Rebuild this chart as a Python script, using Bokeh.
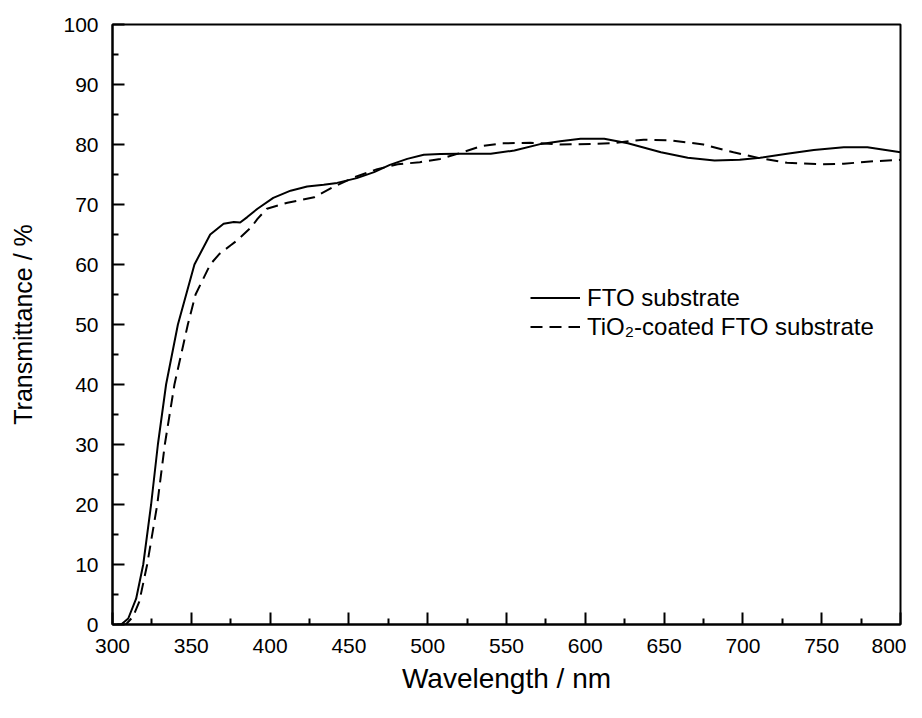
from bokeh.plotting import figure
from bokeh.models import Range1d, FixedTicker, Legend, LegendItem
from bokeh.embed import file_html
from bokeh.resources import INLINE

# ---- data ----
fto_nm = [303, 305.5, 310, 315, 319.5, 324.5, 328.8, 334, 341.5, 352, 362, 370.5, 377, 381,
          385.5, 392, 402, 413, 423.5, 434, 442.5, 455, 466, 476, 487, 497.5, 508, 519, 540,
          555, 572, 584, 597, 612, 627, 648, 665, 682, 698, 711, 728, 745, 764, 779, 800]
fto_T = [0, 0, 1.0, 4.3, 10, 20, 30, 40, 50, 60, 65, 66.8, 67.1, 67.0,
         67.9, 69.3, 71.1, 72.3, 73.0, 73.3, 73.6, 74.4, 75.4, 76.6, 77.6, 78.3, 78.4, 78.45, 78.45,
         79.0, 80.1, 80.55, 80.95, 80.95, 80.2, 78.7, 77.8, 77.35, 77.45, 77.8, 78.45, 79.1, 79.55, 79.55, 78.7]

tio2_nm = [306, 308.5, 313, 317, 322, 328.4, 333.2, 339.3, 347.8, 352.7, 362, 368, 375, 379, 388,
           392, 398, 411, 428, 440, 453, 468, 481, 495, 508, 521, 533.5, 548, 565, 584, 605, 616,
           637, 654, 675, 694, 711, 728, 749, 764, 783, 800]
tio2_T = [0, 0, 1.3, 3.8, 10, 20, 30, 40, 50, 55, 60, 61.8, 63.2, 64, 66.2,
          67.6, 69.3, 70.3, 71.2, 72.9, 74.5, 75.9, 76.7, 77.05, 77.6, 78.6, 79.7, 80.2, 80.3, 80.0, 80.1, 80.2,
          80.8, 80.7, 80.0, 78.7, 77.7, 76.95, 76.7, 76.8, 77.2, 77.45]

x_ticks = [300, 350, 400, 450, 500, 550, 600, 650, 700, 750, 800]
x_minor = [325, 375, 425, 475, 525, 575, 625, 675, 725, 775]
y_ticks = [0, 10, 20, 30, 40, 50, 60, 70, 80, 90, 100]
y_minor = [5, 15, 25, 35, 45, 55, 65, 75, 85, 95]

series_labels = ["FTO substrate", "TiO\u2082-coated FTO substrate"]
x_title = "Wavelength / nm"
y_title = "Transmittance / %"

FONT = "Liberation Sans"

p = figure(width=906, height=702, output_backend="svg", toolbar_location=None,
           x_range=Range1d(300, 800), y_range=Range1d(0, 100),
           min_border_left=112, min_border_top=24, min_border_right=6, min_border_bottom=78)

p.background_fill_color = "white"
p.border_fill_color = "white"
p.xgrid.visible = False
p.ygrid.visible = False
p.outline_line_color = "black"
p.outline_line_width = 2

p.xaxis.ticker = FixedTicker(ticks=x_ticks, minor_ticks=x_minor)
p.yaxis.ticker = FixedTicker(ticks=y_ticks, minor_ticks=y_minor)

for ax in (p.xaxis, p.yaxis):
    ax.axis_line_width = 2
    ax.axis_line_color = "black"
    ax.major_tick_in = 12
    ax.major_tick_out = 0
    ax.minor_tick_in = 6
    ax.minor_tick_out = 0
    ax.major_tick_line_width = 2
    ax.minor_tick_line_width = 2
    ax.major_tick_line_color = "black"
    ax.minor_tick_line_color = "black"
    ax.major_label_text_font = FONT
    ax.major_label_text_font_size = "21px"
    ax.major_label_text_color = "black"
    ax.axis_label_text_font = FONT
    ax.axis_label_text_font_style = "normal"
    ax.axis_label_text_color = "black"

p.xaxis.axis_label = x_title
p.yaxis.axis_label = y_title
p.xaxis.axis_label_text_font_size = "28px"
p.yaxis.axis_label_text_font_size = "25px"
p.xaxis.major_label_standoff = 14
p.yaxis.major_label_standoff = 14
p.xaxis.axis_label_standoff = 7
p.yaxis.axis_label_standoff = 23

r1 = p.line(fto_nm, fto_T, line_color="black", line_width=2)
r2 = p.line(tio2_nm, tio2_T, line_color="black", line_width=2, line_dash="12 7")

legend = Legend(items=[LegendItem(label=series_labels[0], renderers=[r1]),
                       LegendItem(label=series_labels[1], renderers=[r2])],
                location=(418, 283), orientation="vertical")
legend.border_line_color = None
legend.background_fill_alpha = 0
legend.padding = 0
legend.margin = 0
legend.spacing = 0
legend.glyph_width = 50
legend.glyph_height = 29
legend.label_height = 29
legend.label_standoff = 7
legend.label_text_font = FONT
legend.label_text_font_size = "24px"
legend.label_text_color = "black"
p.add_layout(legend, "center")

open("out.html", "w").write(file_html(p, INLINE))
